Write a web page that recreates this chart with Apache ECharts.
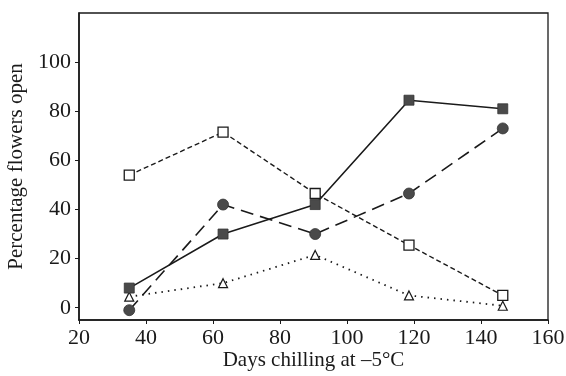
<!DOCTYPE html>
<html>
<head>
<meta charset="utf-8">
<script src="https://cdn.jsdelivr.net/npm/echarts@6/dist/echarts.min.js"></script>
<style>
  html, body { margin: 0; padding: 0; background: #fff; }
  #chart { width: 566px; height: 376px; }
</style>
</head>
<body>
<div id="chart"></div>
<script>
  // data
  var days = [35, 63, 90.5, 118.5, 146.5];
  var filledSquare = [8, 30, 42, 84.5, 81];
  var filledCircle = [-1, 42, 30, 46.5, 73];
  var openSquare = [54, 71.5, 46.5, 25.5, 5];
  var openTriangle = [4.5, 10, 21.5, 5, 0.8];
  var yTicks = [0, 20, 40, 60, 80, 100];

  function pairs(ys) {
    return days.map(function(d, i) { return [d, ys[i]]; });
  }

  var font = 'Liberation Serif';
  var ink = '#1a1a1a';
  var fillGrey = '#4a4a4a';

  var chart = echarts.init(document.getElementById('chart'));

  chart.setOption({
    animation: false,
    backgroundColor: '#fff',
    grid: {
      left: 79,
      right: 18,
      top: 13,
      bottom: 56,
      outerBoundsMode: 'none',
      show: true,
      borderColor: ink,
      borderWidth: 1.3
    },
    xAxis: {
      type: 'value',
      min: 20,
      max: 160,
      interval: 20,
      name: 'Days chilling at \u20135\u00b0C',
      nameLocation: 'middle',
      nameMoveOverlap: false,
      nameGap: 30,
      nameTextStyle: { fontFamily: font, fontSize: 21, color: ink },
      axisLine: { show: true, onZero: false, lineStyle: { color: ink, width: 1.6 } },
      axisTick: { show: true, length: 4, lineStyle: { color: ink } },
      axisLabel: { fontFamily: font, fontSize: 22, color: ink, margin: 7 },
      splitLine: { show: false }
    },
    yAxis: {
      type: 'value',
      min: -5,
      max: 120,
      name: 'Percentage flowers open',
      nameLocation: 'middle',
      nameMoveOverlap: false,
      nameGap: 52,
      nameTextStyle: { fontFamily: font, fontSize: 21, color: ink },
      axisLine: { show: true, onZero: false, lineStyle: { color: ink, width: 1.6 } },
      axisTick: { show: true, length: 4, customValues: yTicks, lineStyle: { color: ink } },
      axisLabel: { fontFamily: font, fontSize: 22, color: ink, margin: 8, customValues: yTicks },
      splitLine: { show: false }
    },
    series: [{
      name: 'open square',
      type: 'line',
      data: pairs(openSquare),
      symbol: 'rect',
      symbolSize: 10,
      itemStyle: { color: '#fff', borderColor: ink, borderWidth: 1.3 },
      lineStyle: { color: ink, width: 1.4, type: [5, 3] },
      z: 3
    }, {
      name: 'filled circle',
      type: 'line',
      data: pairs(filledCircle),
      symbol: 'circle',
      symbolSize: 11,
      itemStyle: { color: fillGrey, borderColor: '#333', borderWidth: 0.8 },
      lineStyle: { color: ink, width: 1.6, type: [13, 7] },
      z: 4
    }, {
      name: 'filled square',
      type: 'line',
      data: pairs(filledSquare),
      symbol: 'rect',
      symbolSize: 10,
      itemStyle: { color: fillGrey, borderColor: '#333', borderWidth: 0.8 },
      lineStyle: { color: ink, width: 1.6, type: 'solid' },
      z: 5
    }, {
      name: 'open triangle',
      type: 'line',
      data: pairs(openTriangle),
      symbol: 'triangle',
      symbolSize: 9,
      itemStyle: { color: '#fff', borderColor: ink, borderWidth: 1.2 },
      lineStyle: { color: ink, width: 1.8, type: [1.5, 5] },
      z: 3
    }]
  });
</script>
</body>
</html>
